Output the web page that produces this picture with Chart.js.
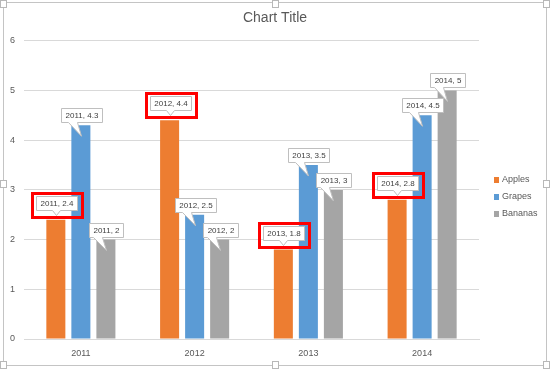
<!DOCTYPE html>
<html>
<head>
<meta charset="utf-8">
<script src="https://cdn.jsdelivr.net/npm/chart.js@4/dist/chart.umd.min.js"></script>
<style>
  html, body { margin: 0; padding: 0; background: #fff; }
  #wrap { position: relative; width: 550px; height: 370px; }
  #frame { position: absolute; left: 3px; top: 2px; width: 542px; height: 362px; border: 1px solid #c4c4c4; pointer-events: none; }
  .h { position: absolute; width: 5px; height: 6px; border: 1px solid #b8b8b8; background: #fff; }
</style>
</head>
<body>
<div id="wrap">
  <canvas id="chart" width="550" height="370"></canvas>
  <div id="frame"></div>
  <div class="h" style="left:0;top:0"></div>
  <div class="h" style="left:272px;top:0"></div>
  <div class="h" style="left:543px;top:0"></div>
  <div class="h" style="left:0;top:180px"></div>
  <div class="h" style="left:543px;top:180px"></div>
  <div class="h" style="left:0;top:361px"></div>
  <div class="h" style="left:272px;top:361px"></div>
  <div class="h" style="left:543px;top:361px"></div>
</div>
<script>
const years = ['2011', '2012', '2013', '2014'];
const apples = [2.4, 4.4, 1.8, 2.8];
const grapes = [4.3, 2.5, 3.5, 4.5];
const bananas = [2, 2, 3, 5];
const seriesNames = ['Apples', 'Grapes', 'Bananas'];
const seriesColors = ['#ED7D31', '#5B9BD5', '#A5A5A5'];
const yMin = 0, yMax = 6, yStep = 1;
const highlighted = ['Apples'];   // series whose labels get the red box

const FONT = '"Liberation Sans", Arial, sans-serif';

// callout data labels, anchored on the bar elements
const callouts = {
  id: 'callouts',
  afterDatasetsDraw(chart) {
    const ctx = chart.ctx;
    ctx.save();
    ctx.font = '8px ' + FONT;
    ctx.textAlign = 'center';
    ctx.textBaseline = 'middle';
    chart.data.datasets.forEach((ds, di) => {
      const meta = chart.getDatasetMeta(di);
      const hl = highlighted.includes(ds.label);
      meta.data.forEach((bar, i) => {
        const text = years[i] + ', ' + ds.data[i];
        const w = Math.round(ctx.measureText(text).width) + 8;
        const h = 14;
        const cx = Math.round(bar.x);
        const top = bar.y;
        const bx = Math.round(cx - w / 2) + 0.5;
        const bb = Math.round(hl ? top - 10 : top - 3) + 0.5;
        const bt = bb - h;
        ctx.beginPath();
        ctx.moveTo(bx, bt);
        ctx.lineTo(bx + w, bt);
        ctx.lineTo(bx + w, bb);
        if (hl) {
          ctx.lineTo(cx + 4.5, bb);
          ctx.lineTo(cx + 0.5, bb + 5);
          ctx.lineTo(cx - 3.5, bb);
        } else {
          ctx.lineTo(cx - 3.5, bb);
          ctx.lineTo(cx + 0.5, top + 11);
          ctx.lineTo(cx - 12.5, bb);
        }
        ctx.lineTo(bx, bb);
        ctx.closePath();
        ctx.fillStyle = '#fff';
        ctx.fill();
        ctx.strokeStyle = '#bfbfbf';
        ctx.lineWidth = 1;
        ctx.stroke();
        ctx.fillStyle = '#404040';
        ctx.fillText(text, bx + w / 2, bt + h / 2 + 0.5);
        if (hl) {
          ctx.strokeStyle = '#ff0000';
          ctx.lineWidth = 3;
          ctx.strokeRect(bx - 4, bt - 3, w + 9, h + 10);
        }
      });
    });
    ctx.restore();
  }
};

// legend drawn in the space kept free on the right
const sideLegend = {
  id: 'sideLegend',
  afterDraw(chart) {
    const ctx = chart.ctx;
    const x = chart.chartArea.right + 15;
    const y0 = 180;
    ctx.save();
    ctx.font = '9px ' + FONT;
    ctx.textBaseline = 'middle';
    ctx.textAlign = 'left';
    chart.data.datasets.forEach((ds, i) => {
      const y = y0 + i * 17;
      ctx.fillStyle = ds.backgroundColor;
      ctx.fillRect(x, y - 3, 5, 6);
      ctx.fillStyle = '#595959';
      ctx.fillText(ds.label, x + 8, y);
    });
    ctx.restore();
  }
};

const seriesData = [apples, grapes, bananas];

new Chart(document.getElementById('chart'), {
  type: 'bar',
  data: {
    labels: years,
    datasets: seriesNames.map((name, i) => ({
      label: name,
      data: seriesData[i],
      backgroundColor: seriesColors[i],
      borderWidth: 0,
      categoryPercentage: 0.66,
      barPercentage: 0.76
    }))
  },
  options: {
    responsive: false,
    animation: false,
    layout: { padding: { left: 4, right: 4, top: 8, bottom: 11 } },
    plugins: {
      legend: { display: false },
      tooltip: { enabled: false },
      title: {
        display: true,
        text: 'Chart Title',
        color: '#595959',
        font: { family: FONT, size: 14, weight: 'normal' },
        padding: { top: 2, bottom: 14 }
      }
    },
    scales: {
      x: {
        grid: { display: false, drawTicks: false },
        border: { color: '#d9d9d9' },
        ticks: { color: '#595959', font: { family: FONT, size: 9 }, padding: 9 },
        afterFit: s => { s.height = 20; }
      },
      y: {
        min: yMin, max: yMax,
        grid: { color: '#d9d9d9', drawTicks: false },
        border: { display: false },
        ticks: { stepSize: yStep, color: '#595959', font: { family: FONT, size: 9 }, padding: 9 },
        afterFit: s => { s.width = 20; }
      },
      // empty right-hand box that keeps room for the legend
      side: {
        type: 'linear',
        position: 'right',
        grid: { display: false, drawTicks: false },
        border: { display: false },
        ticks: { display: false },
        afterFit: s => { s.width = 67; }
      }
    }
  },
  plugins: [callouts, sideLegend]
});
</script>
</body>
</html>
